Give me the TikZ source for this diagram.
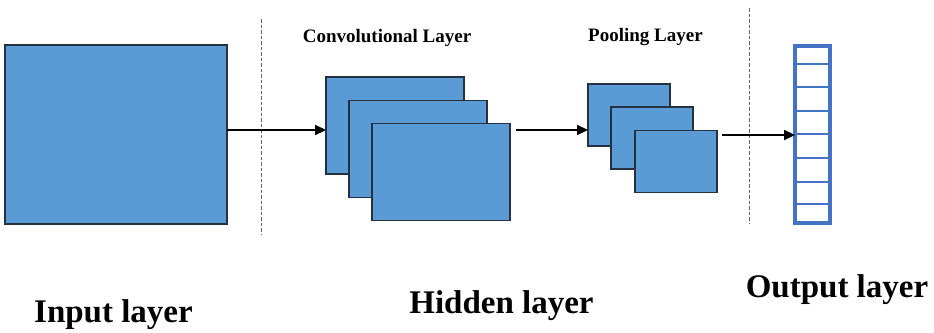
\documentclass[tikz,border=0pt]{standalone}
\usepackage{fontspec}
\setmainfont{Liberation Serif}
\usetikzlibrary{arrows.meta}
\definecolor{mapfill}{HTML}{5B9BD5}
\definecolor{mapedge}{HTML}{26313F}
\definecolor{vecblue}{HTML}{4472C4}
\begin{document}
\begin{tikzpicture}[x=1pt,y=-1pt,
  fmap/.style={draw=mapedge,line width=1.3pt,fill=mapfill,inner sep=0pt,outer sep=0pt},
  flow/.style={line width=2.2pt,-{Triangle[length=11pt,width=10pt]}},
  divider/.style={draw=gray!80!black,line width=1pt,dash pattern=on 3.5pt off 2pt},
  title/.style={font=\bfseries\fontsize{19}{22}\selectfont,anchor=base,inner sep=0pt},
  layername/.style={font=\bfseries\fontsize{33}{38}\selectfont,anchor=base,inner sep=0pt}]
\useasboundingbox (0,0) rectangle (934,332);

% section dividers
\coordinate (d1t) at (261,19);  \coordinate (d1b) at (261,234);
\coordinate (d2t) at (749,8);   \coordinate (d2b) at (749,223);
\draw[divider] (d1t) -- (d1b);
\draw[divider] (d2t) -- (d2b);

% input image
\node[fmap,minimum width=222pt,minimum height=179pt] (in) at (116,134.5) {};

% convolutional feature maps
\node[fmap,minimum width=138pt,minimum height=97pt] (c1) at (395,125.5) {};
\node[fmap,minimum width=138pt,minimum height=97pt] (c2) at (418,149) {};
\node[fmap,minimum width=138pt,minimum height=97pt] (c3) at (441,172) {};

% pooled feature maps
\node[fmap,minimum width=82pt,minimum height=62pt] (p1) at (629,115) {};
\node[fmap,minimum width=82pt,minimum height=62pt] (p2) at (652,138) {};
\node[fmap,minimum width=82pt,minimum height=62pt] (p3) at (676,161.5) {};

% output vector
\node[draw=vecblue,line width=3.2pt,minimum width=35pt,minimum height=177pt,inner sep=0pt,outer sep=0pt] (out) at (812.5,134.5) {};
\foreach \yy in {64,87,111,134,158,182,204}
  \draw[vecblue,line width=2.2pt] (out.west |- 0,\yy) -- (out.east |- 0,\yy);

% data flow
\draw[flow] (in.east |- 0,130) -- (c1.west |- 0,130);
\draw[flow,shorten <=6pt] (c3.east |- 0,130) -- (p1.west |- 0,130);
\draw[flow,shorten <=5pt] (p3.east |- 0,135) -- (out.west |- 0,135);

% titles
\node[title] (tconv) at (387,42) {Convolutional Layer};
\node[title] (tpool) at (645.5,41) {Pooling Layer};
\node[layername] (lin) at (113.5,322) {Input layer};
\node[layername] (lhid) at (501.5,313) {Hidden layer};
\node[layername] (lout) at (837,297) {Output layer};
\end{tikzpicture}
\end{document}
